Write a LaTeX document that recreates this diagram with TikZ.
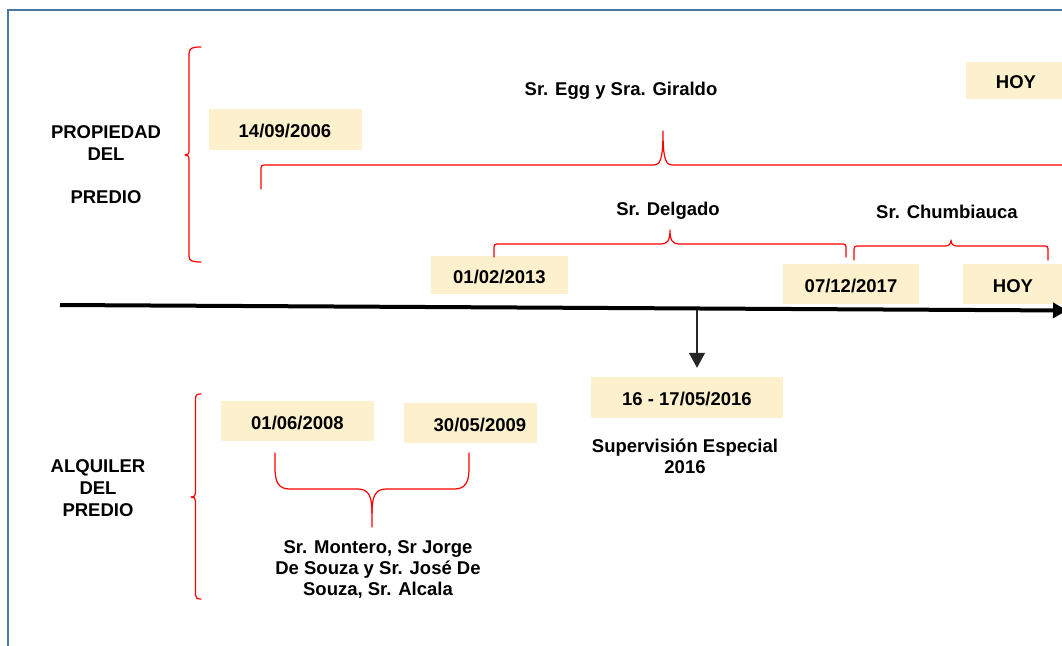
\documentclass[tikz,border=0pt]{standalone}
\usepackage{fontspec}
\setmainfont{Liberation Sans}
\usetikzlibrary{arrows.meta}
\definecolor{boxfill}{RGB}{253,240,205}
\definecolor{frameblue}{RGB}{74,118,168}
\definecolor{bracered}{RGB}{255,0,0}
\begin{document}
\begin{tikzpicture}[x=1pt,y=-1pt,
  lbl/.style={font=\fontsize{18.5}{21}\selectfont\bfseries, inner sep=0pt},
  datebox/.style={lbl, fill=boxfill, minimum height=40pt, text height=16.2pt, text depth=0pt},
  brace/.style={draw=bracered, line width=1.2pt, line join=round, line cap=round}]
\clip (0,0) rectangle (1062,645);
\fill[white] (0,0) rectangle (1062,645);
\draw[frameblue, line width=2.2pt] (8,660) -- (8,10) -- (1075,10);

% date boxes
\node[datebox, minimum width=153pt, minimum height=41pt] (d2006) at (285,129.5) {14/09/2006};
\node[datebox, minimum width=100pt, minimum height=37pt] (hoy1) at (1016,80.5) {HOY};
\node[datebox, minimum width=137pt, minimum height=38pt] (d2013) at (499.5,275) {01/02/2013};
\node[datebox, minimum width=136pt] (d2017) at (851,284) {07/12/2017};
\node[datebox, minimum width=100pt] (hoy2) at (1013,284) {HOY};
\node[datebox, minimum width=192pt, minimum height=41pt] (d2016) at (687,397.5) {16 - 17/05/2016};
\node[datebox, minimum width=153pt] (d2008) at (297.5,421) {01/06/2008};
\node[datebox, minimum width=133pt] (d2009) at (470.5,423) {};
\node[lbl, anchor=base] (t2009) at (480,431) {30/05/2009};

% labels
\node[lbl, anchor=base] (p1) at (106,138.5) {PROPIEDAD};
\node[lbl, anchor=base] (p2) at (106,160) {DEL};
\node[lbl, anchor=base] (p3) at (106,203.5) {PREDIO};
\node[lbl, anchor=base] (a1) at (98,472.5) {ALQUILER};
\node[lbl, anchor=base] (a2) at (98,494.5) {DEL};
\node[lbl, anchor=base] (a3) at (98,516.5) {PREDIO};
\node[lbl, anchor=base] (egg) at (621,95) {Sr. Egg y Sra. Giraldo};
\node[lbl, anchor=base] (delg) at (668,215) {Sr. Delgado};
\node[lbl, anchor=base] (chum) at (947,218) {Sr. Chumbiauca};
\node[lbl, anchor=base] (sup1) at (685,452.5) {Supervisión Especial};
\node[lbl, anchor=base] (sup2) at (685,473.5) {2016};
\node[lbl, anchor=base] (m1) at (378,553.5) {Sr. Montero, Sr Jorge};
\node[lbl, anchor=base] (m2) at (378,574.5) {De Souza y Sr. José De};
\node[lbl, anchor=base] (m3) at (378,595.5) {Souza, Sr. Alcala};

% braces
\draw[brace] (261,189) -- (261,171) .. controls (261,165) .. (267,165) -- (653,165)
  .. controls (660,165) and (663,161) .. (663,131) .. controls (663,161) and (666,165) .. (673,165) -- (1070,165);
\draw[brace] (494,257) -- (494,250) .. controls (494,244) .. (500,244) -- (661,244)
  .. controls (667,244) and (670,241) .. (670,230) .. controls (670,241) and (673,244) .. (679,244)
  -- (840,244) .. controls (846,244) .. (846,250) -- (846,257);
\draw[brace] (854,260) -- (854,252) .. controls (854,246) .. (860,246) -- (945,246)
  .. controls (949,246) and (951,244) .. (951,240) .. controls (951,244) and (953,246) .. (957,246)
  -- (1042,246) .. controls (1048,246) .. (1048,252) -- (1048,260);
\draw[brace] (201,47) .. controls (192,47) and (189,48) .. (189,54) -- (189,150)
  .. controls (189,154) and (188,155) .. (185,155) .. controls (188,155) and (189,156) .. (189,160)
  -- (189,256) .. controls (189,261) and (192,262) .. (201,262);
\draw[brace] (201,394) .. controls (197,394) and (195.5,395) .. (195.5,399) -- (195.5,493)
  .. controls (195.5,496) and (194,497) .. (191,497) .. controls (194,497) and (195.5,498) .. (195.5,501)
  -- (195.5,595) .. controls (195.5,598) and (197,599) .. (201,599);
\draw[brace] (275,453) -- (275,468) .. controls (275,483) and (279,489) .. (290,489) -- (358,489)
  .. controls (369,489) and (372,497) .. (372,513) -- (372,527);
\draw[brace] (469,453) -- (469,468) .. controls (469,483) and (465,489) .. (454,489) -- (386,489)
  .. controls (375,489) and (372,497) .. (372,513);

% timeline
\coordinate (tl0) at (60,305);
\coordinate (tl1) at (1067,310.5);
\draw[line width=4pt, -{Triangle[length=14pt,width=15pt]}] (tl0) -- (tl1);
\coordinate (sup) at (697,310);
\draw[black!85, line width=1.5pt, -{Triangle[length=15pt,width=16pt]}, shorten >=9pt] (sup) -- (sup |- d2016.north);
\end{tikzpicture}
\end{document}
